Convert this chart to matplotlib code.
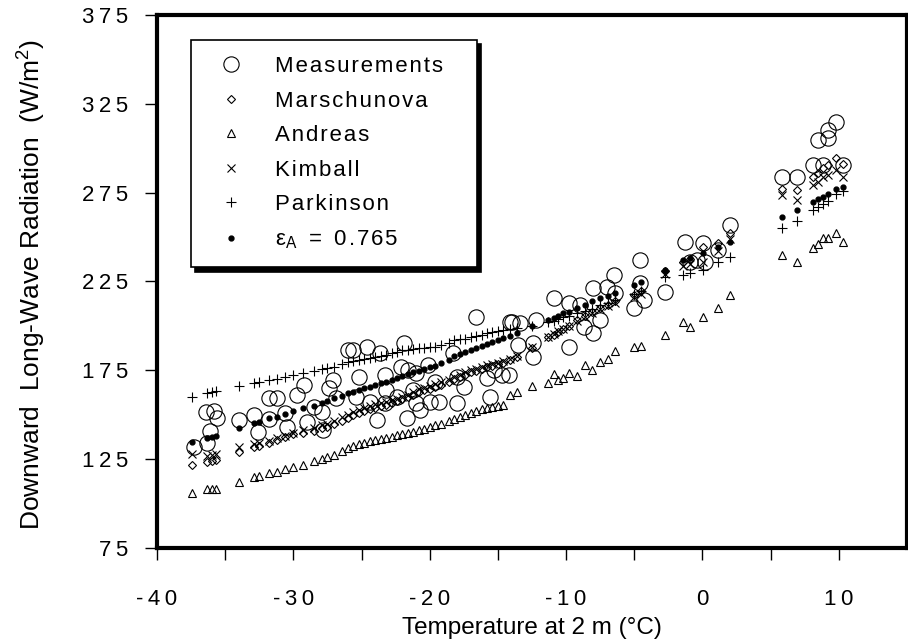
import matplotlib.pyplot as plt
import numpy as np

plt.rcParams['font.family'] = ['Liberation Sans', 'DejaVu Sans']
plt.rcParams['mathtext.fontset'] = 'custom'
plt.rcParams['mathtext.rm'] = 'Liberation Sans'

# measured downward long-wave radiation (W/m2) vs 2 m temperature (C)
temp_meas = [-37.3, -36.3, -36.1, -36.4, -35.8, -35.6,
             -34.0, -32.9, -32.6, -31.8, -31.8, -31.2, -30.6, -30.5, -29.7, -29.2, -29.0,
             -28.5, -27.9, -27.8, -27.4, -27.1, -26.9,
             -26.0, -25.6, -24.6, -23.65, -21.9, -16.6, -14.0,
             -25.2, -23.3, -22.1, -21.6, -21.0, -20.1, -18.3, -18.0, -17.5, -15.8, -15.3, -14.7,
             -25.4, -24.4, -23.2, -22.4, -21.0, -19.3, -18.0, -15.6, -23.3, -21.2, -19.6,
             -23.9, -21.7, -20.7, -20.0,
             -14.2, -14.1, -13.4, -13.5, -12.4, -12.4, -12.2, -10.9, -9.8, -9.8, -9.0, -8.7,
             -8.0, -8.0, -7.5, -6.5, -6.4, -7.0, -5.0, -4.6, -4.6, -4.3, -2.75, -1.3, -0.9, -0.4,
             0.05, 1.15, 0.2, 2.0, 5.8, 6.9, 8.1, 8.85, 10.3, 8.5, 9.2, 9.8, 9.2]
lw_meas = [131.7, 134.0, 141.0, 151.5, 152.0, 148.0,
           147.0, 149.8, 140.4, 147.4, 159.2, 159.2, 150.8, 143.3, 161.1, 166.7, 146.0,
           154.5, 151.7, 141.4, 164.8, 169.5, 159.2,
           186.4, 186.4, 188.3, 184.5, 190.2, 205.2, 202.4,
           171.4, 172.4, 177.0, 175.2, 173.3, 178.0, 184.5, 171.4, 165.8, 170.5, 175.2, 172.4,
           160.2, 157.3, 163.9, 160.2, 156.4, 157.3, 156.4, 160.2, 156.4, 163.9, 168.6,
           147.0, 148.0, 152.7, 157.3,
           172.4, 202.4, 201.4, 189.2, 190.2, 182.7, 203.3, 215.5, 212.7, 188.3, 211.8, 199.6,
           195.8, 221.1, 203.3, 228.6, 218.3, 222.1, 209.9, 237.1, 223.9, 214.6, 219.2, 247.4, 236.1, 237.1,
           246.5, 242.7, 236.2, 256.8, 283.6, 283.6, 290.6, 290.6, 290.6, 304.6, 310.3, 314.9, 305.6]

# temperatures of the model estimates
temp_model = [-37.4, -36.3, -36.0, -35.7, -34.0, -32.9, -32.5, -31.8, -31.2, -30.6,
              -30.0, -29.3, -28.5, -27.9, -27.5, -27.0, -26.4, -26.0, -25.6, -25.2,
              -24.8, -24.4, -24.0, -23.6, -23.2, -22.8, -22.4, -22.0, -21.6, -21.2,
              -20.8, -20.4, -20.0, -19.6, -19.2, -18.6, -18.2, -17.8, -17.4, -17.0,
              -16.6, -16.2, -15.8, -15.4, -15.0, -14.6, -14.1, -13.6, -12.5, -11.3,
              -10.9, -10.6, -10.2, -9.8, -9.2, -8.6, -8.1, -7.5, -6.9, -6.4,
              -5.0, -4.5, -2.75, -1.4, -0.9, 0.05, 1.15, 2.0, 5.8, 6.9,
              8.1, 8.5, 8.85, 9.2, 9.8, 10.3]
lw_marschunova = [121.7, 123.6, 124.0, 124.5, 129.2, 132.0, 132.6, 133.9, 135.8, 137.6,
                  139.1, 139.9, 141.0, 142.3, 143.2, 144.6, 146.5, 148.0, 149.8, 151.0,
                  152.0, 153.1, 154.0, 154.8, 155.6, 156.6, 157.6, 158.6, 159.8, 161.2,
                  162.6, 163.7, 164.6, 165.6, 166.8, 168.4, 170.0, 171.3, 172.5, 173.8,
                  174.8, 175.8, 176.8, 177.6, 178.4, 179.2, 180.8, 182.4, 187.5, 193.5,
                  195.0, 196.7, 198.4, 200.0, 203.2, 205.6, 208.0, 210.2, 212.0, 214.0,
                  217.5, 219.5, 231.0, 236.0, 237.5, 244.6, 246.5, 252.1, 276.9, 276.5,
                  284.0, 285.9, 288.7, 290.6, 294.3, 291.1]
lw_andreas = [106.1, 108.0, 108.4, 108.4, 112.3, 115.1, 115.7, 117.0, 117.9, 119.6,
              120.8, 121.7, 123.8, 124.9, 126.4, 127.3, 129.5, 131.5, 132.5, 133.5,
              134.3, 135.0, 135.6, 136.2, 136.7, 137.5, 138.4, 139.3, 139.9, 140.5,
              141.2, 142.2, 143.2, 144.0, 145.0, 146.4, 147.5, 148.6, 149.7, 150.8,
              152.0, 153.0, 154.0, 154.5, 154.9, 155.5, 161.1, 163.0, 166.2, 167.7,
              172.9, 169.6, 170.5, 173.7, 171.8, 178.0, 175.2, 179.9, 181.2, 186.1,
              187.9, 188.7, 194.9, 202.4, 199.6, 205.0, 210.0, 217.4, 239.9, 236.2,
              243.7, 246.1, 249.3, 249.3, 252.1, 247.0]
lw_kimball = [128.0, 126.8, 127.4, 128.0, 132.0, 133.3, 134.0, 135.4, 136.7, 138.0,
              139.5, 141.4, 142.8, 144.0, 145.0, 146.5, 148.5, 150.0, 151.7, 152.8,
              153.9, 155.0, 155.8, 156.6, 157.3, 158.2, 159.1, 160.0, 161.3, 162.8,
              164.3, 165.3, 166.2, 167.1, 168.2, 169.7, 171.4, 172.6, 173.8, 175.0,
              175.9, 176.8, 177.8, 178.5, 179.2, 180.0, 181.5, 183.0, 188.0, 194.0,
              195.5, 197.0, 198.5, 200.0, 203.0, 205.2, 207.5, 209.5, 211.0, 213.0,
              216.0, 218.0, 229.0, 233.5, 235.0, 236.0, 242.0, 249.0, 273.7, 270.9,
              279.3, 281.2, 284.0, 284.9, 287.8, 284.0]
lw_parkinson = [160.1, 162.5, 162.9, 163.2, 166.1, 168.0, 168.3, 169.5, 169.9, 171.0,
                172.3, 173.6, 174.8, 175.5, 176.2, 177.0, 178.5, 179.5, 180.2, 180.7,
                181.2, 181.7, 182.3, 183.0, 183.6, 184.5, 185.4, 186.3, 186.7, 187.0,
                187.3, 187.6, 187.9, 188.2, 189.0, 190.6, 191.8, 192.4, 192.9, 193.5,
                194.3, 195.0, 195.8, 196.4, 197.0, 197.7, 198.2, 198.6, 200.0, 202.0,
                203.0, 204.0, 204.8, 205.5, 207.0, 208.5, 209.8, 211.5, 213.0, 214.5,
                218.0, 219.5, 227.7, 228.5, 230.0, 231.5, 236.2, 239.0, 254.9, 259.2,
                265.2, 267.1, 268.6, 270.5, 274.2, 276.1]
lw_emiss = [134.8, 137.0, 137.6, 138.1, 142.3, 145.2, 146.0, 148.0, 148.9, 150.2,
            152.1, 153.6, 154.9, 156.4, 157.5, 159.2, 160.8, 162.0, 163.0, 163.8,
            164.8, 165.8, 166.7, 167.6, 168.6, 169.8, 170.9, 172.0, 173.0, 173.9,
            174.9, 175.8, 176.8, 177.7, 179.0, 181.0, 182.8, 184.0, 185.2, 186.4,
            187.5, 188.5, 189.6, 190.8, 192.0, 193.2, 194.6, 195.8, 200.0, 203.3,
            204.5, 205.4, 207.0, 208.0, 209.9, 211.8, 213.8, 215.5, 217.0, 218.5,
            222.8, 224.5, 231.5, 237.1, 238.2, 240.8, 244.6, 247.4, 261.5, 265.2,
            269.9, 271.4, 272.7, 274.0, 276.9, 278.4]

x_ticks = [-40, -30, -20, -10, 0, 10]
y_ticks = [75, 125, 175, 225, 275, 325, 375]


def spaced(s, gap='\u200a'):
    # wide letter spacing like the original typesetting
    return gap.join(s)


fig = plt.figure(figsize=(9.08, 6.42), dpi=100)
ax = fig.add_axes([157 / 908, 94 / 642, 750 / 908, 533 / 642])

h_meas, = ax.plot(temp_meas, lw_meas, 'o', ms=11, mfc='none', mec='black', mew=0.8)
h_mar, = ax.plot(temp_model, lw_marschunova, 'D', ms=4, mfc='none', mec='black', mew=0.8)
h_and, = ax.plot(temp_model, lw_andreas, '^', ms=5.5, mfc='none', mec='black', mew=0.8)
h_kim, = ax.plot(temp_model, lw_kimball, 'x', ms=5.5, mec='black', mew=0.8)
h_par, = ax.plot(temp_model, lw_parkinson, '+', ms=7, mec='black', mew=0.8)
h_emi, = ax.plot(temp_model, lw_emiss, 'o', ms=3.5, color='black')

ax.set_xlim(-40, 15)
ax.set_ylim(75, 375)
ax.set_xticks(x_ticks)
ax.set_xticklabels([spaced(str(v), '\u2009') for v in x_ticks])
ax.set_xticks([-35, -25, -15, -5, 5], minor=True)
ax.set_yticks(y_ticks)
ax.set_yticklabels([spaced(str(v), '\u2009') for v in y_ticks])
ax.tick_params(which='both', direction='out', length=8.5, width=1, labelsize=16)
ax.tick_params(axis='x', which='both', pad=21)
ax.tick_params(axis='y', pad=12)
for s in ax.spines.values():
    s.set_linewidth(3)

fig.text(532 / 908, 1 - 628 / 642, 'Temperature at 2 m (°C)', fontsize=17.5,
         ha='center', va='center')
fig.text(31 / 908, 1 - 284 / 642, 'Downward  Long-Wave Radiation  (W/m$^2$)',
         fontsize=19, rotation=90, ha='center', va='center')

labels = ['Measurements', 'Marschunova', 'Andreas', 'Kimball', 'Parkinson']
labels = [spaced(l) for l in labels] + ['\u03b5$_{\\rm A}$  =  ' + spaced('0.765')]
labels[0] = labels[0] + '\u2009' * 4
leg = ax.legend([h_meas, h_mar, h_and, h_kim, h_par, h_emi], labels,
                loc='upper left', bbox_to_anchor=(0.045, 0.953), borderaxespad=0,
                fancybox=False, framealpha=1, edgecolor='black', fontsize=16,
                labelspacing=0.61, handletextpad=0.9, borderpad=0.72, handlelength=2.16,
                shadow={'ox': 3, 'oy': -3, 'color': 'black', 'alpha': 1})
leg.get_frame().set_linewidth(1.2)

fig.savefig('out.png', dpi=100)
